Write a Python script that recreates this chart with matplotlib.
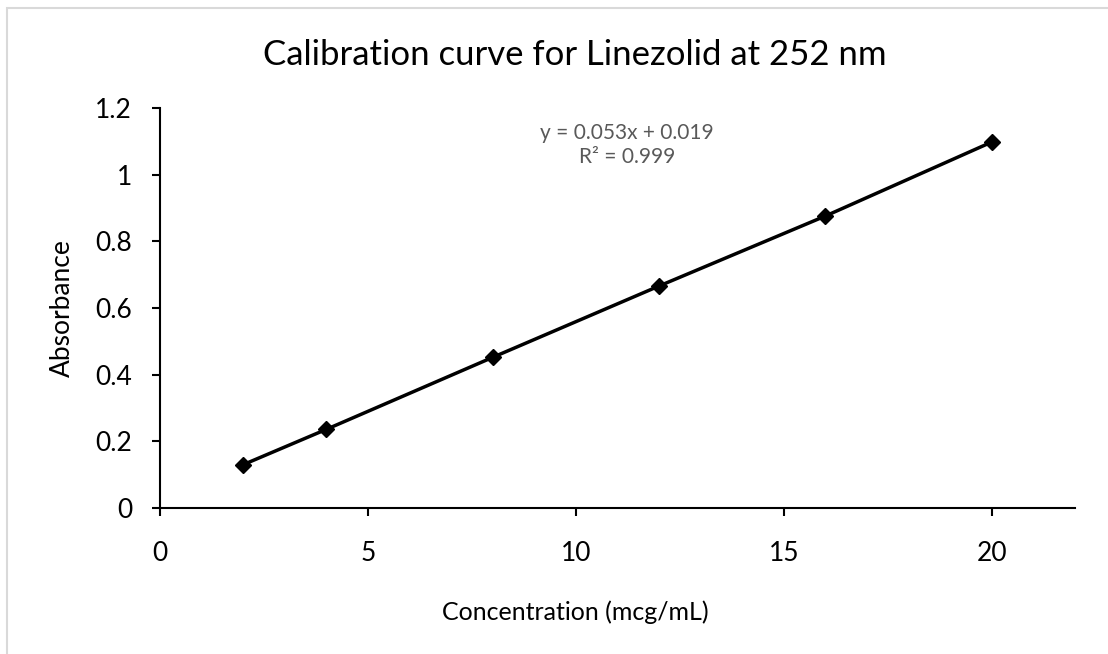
import matplotlib
matplotlib.use("Agg")
import matplotlib.pyplot as plt
from matplotlib.patches import Rectangle
from matplotlib.ticker import FuncFormatter

plt.rcParams['font.family'] = ['Lato', 'DejaVu Sans']

conc = [2, 4, 8, 12, 16, 20]
absorb = [0.130, 0.236, 0.452, 0.666, 0.876, 1.098]
xticks = [0, 5, 10, 15, 20]
yticks = [0, 0.2, 0.4, 0.6, 0.8, 1.0, 1.2]
title = "Calibration curve for Linezolid at 252 nm"
eq_text = "y = 0.053x + 0.019\nR² = 0.999"

W, H = 1108, 654
fig = plt.figure(figsize=(W / 100, H / 100), dpi=100)
ax = fig.add_axes([160 / W, 1 - 508 / H, (1075 - 160) / W, (508 - 108) / H])

ax.plot(conc, absorb, color='black', lw=2.5, marker='D', ms=8, zorder=3)

ax.set_xlim(0, 22)
ax.set_ylim(0, 1.2)
ax.set_xticks(xticks)
ax.set_yticks(yticks)
ax.yaxis.set_major_formatter(FuncFormatter(lambda v, p: f"{v:g}"))
ax.spines['top'].set_visible(False)
ax.spines['right'].set_visible(False)
for s in ('left', 'bottom'):
    ax.spines[s].set_linewidth(1.5)
ax.tick_params(axis='both', direction='out', length=6, width=1.5, labelsize=19, colors='black')
ax.tick_params(axis='x', pad=18)
ax.tick_params(axis='y', pad=14)

ax.set_xlabel("Concentration (mcg/mL)", fontsize=18, labelpad=26)
ax.set_ylabel("Absorbance", fontsize=19, labelpad=15)
ax.xaxis.set_label_coords((575 - 160) / (1075 - 160), -(612 - 508) / (508 - 108))
ax.xaxis.label.set_va('center')

fig.text(575 / W, 1 - 55 / H, title, fontsize=25, ha='center', va='center')
fig.text(627 / W, 1 - 145 / H, eq_text, fontsize=15, ha='center', va='center',
         color='#595959', linespacing=1.3)

fig.patches.append(Rectangle((7 / W, -0.1), 1.2, 1 - 8 / H + 0.1, transform=fig.transFigure,
                             fill=False, edgecolor='#d9d9d9', lw=1.5))

fig.savefig("out.png", dpi=100)
